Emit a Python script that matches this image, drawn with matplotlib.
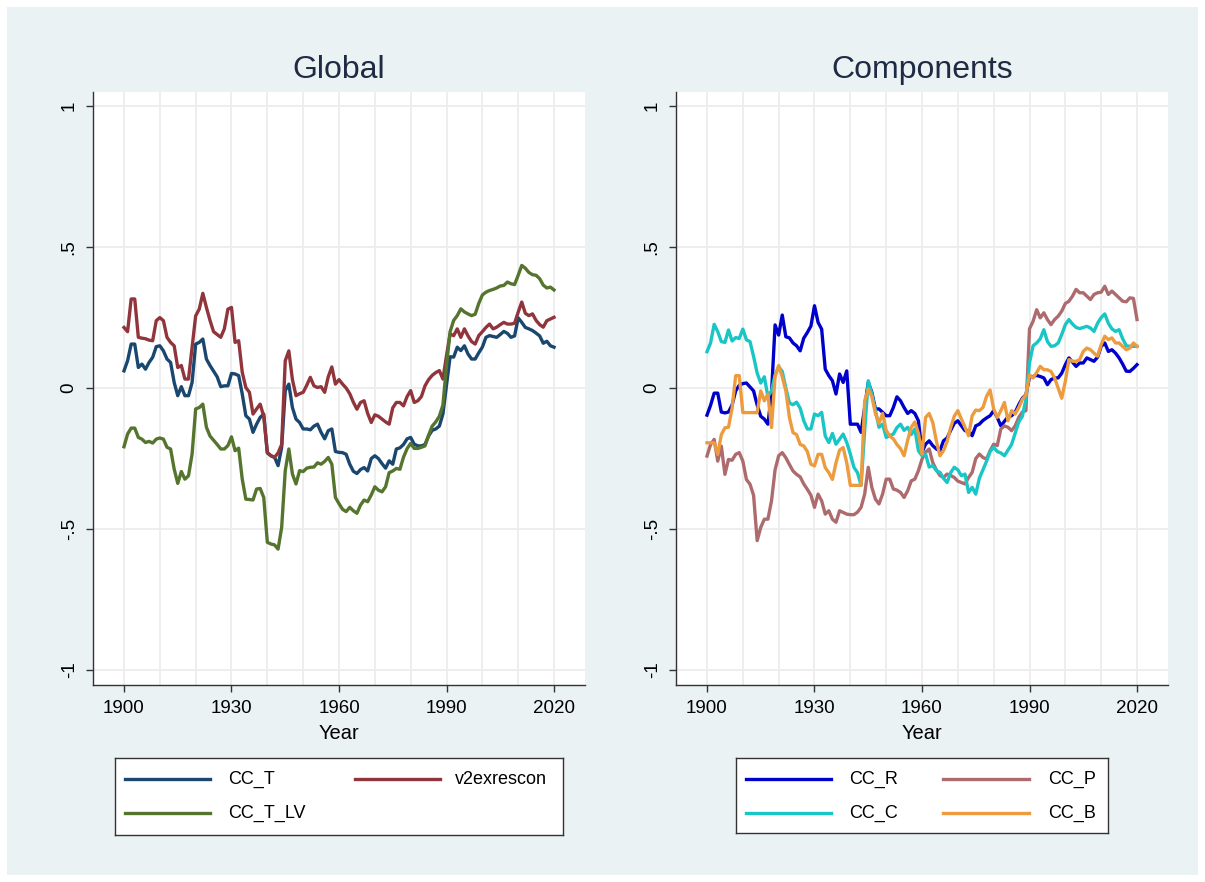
import numpy as np
import matplotlib
matplotlib.use("Agg")
import matplotlib.pyplot as plt
from matplotlib.lines import Line2D
from matplotlib.patches import Rectangle

plt.rcParams['font.family'] = ['Liberation Sans', 'DejaVu Sans']

# ---------------------------------------------------------------- data
years = np.arange(1900, 2021)

cc_t = [
    0.061, 0.097, 0.156, 0.156, 0.073, 0.085, 0.067, 0.091, 0.109, 0.147,
    0.150, 0.132, 0.103, 0.091, 0.020, -0.027, 0.005, -0.027, -0.027, 0.020,
    0.156, 0.162, 0.174, 0.103, 0.080, 0.060, 0.040, 0.005, 0.008, 0.008,
    0.052, 0.050, 0.044, -0.021, -0.098, -0.110, -0.157, -0.128, -0.104, -0.092,
    -0.230, -0.240, -0.245, -0.275, -0.210, -0.009, 0.014, -0.069, -0.110, -0.122,
    -0.145, -0.145, -0.148, -0.135, -0.128, -0.157, -0.180, -0.151, -0.145, -0.225,
    -0.228, -0.229, -0.235, -0.270, -0.295, -0.303, -0.289, -0.282, -0.294, -0.250,
    -0.240, -0.250, -0.268, -0.284, -0.258, -0.270, -0.216, -0.212, -0.200, -0.180,
    -0.175, -0.199, -0.205, -0.205, -0.200, -0.170, -0.150, -0.145, -0.135, -0.092,
    0.010, 0.111, 0.110, 0.145, 0.133, 0.150, 0.121, 0.103, 0.103, 0.125,
    0.145, 0.180, 0.186, 0.183, 0.180, 0.190, 0.201, 0.194, 0.180, 0.185,
    0.249, 0.233, 0.215, 0.210, 0.204, 0.195, 0.185, 0.159, 0.166, 0.150,
    0.145,
]

v2exrescon = [
    0.215, 0.200, 0.316, 0.316, 0.180, 0.177, 0.175, 0.170, 0.168, 0.239,
    0.250, 0.239, 0.180, 0.162, 0.150, 0.073, 0.080, 0.032, 0.032, 0.144,
    0.256, 0.280, 0.336, 0.286, 0.240, 0.200, 0.190, 0.180, 0.210, 0.280,
    0.286, 0.162, 0.168, 0.056, 0.002, -0.015, -0.092, -0.074, -0.057, -0.100,
    -0.228, -0.240, -0.246, -0.230, -0.200, 0.097, 0.132, 0.030, -0.027, -0.020,
    -0.015, 0.010, 0.038, 0.008, 0.002, 0.005, -0.015, 0.040, 0.075, 0.014,
    0.030, 0.014, 0.000, -0.020, -0.050, -0.075, -0.051, -0.045, -0.090, -0.122,
    -0.095, -0.100, -0.110, -0.120, -0.128, -0.070, -0.051, -0.051, -0.063, -0.030,
    -0.009, -0.051, -0.045, -0.030, 0.008, 0.030, 0.045, 0.055, 0.062, 0.032,
    0.115, 0.192, 0.186, 0.210, 0.180, 0.210, 0.185, 0.165, 0.156, 0.186,
    0.200, 0.215, 0.227, 0.210, 0.216, 0.225, 0.233, 0.227, 0.227, 0.230,
    0.269, 0.305, 0.265, 0.257, 0.263, 0.240, 0.225, 0.216, 0.239, 0.245,
    0.251,
]

cc_t_lv = [
    -0.208, -0.163, -0.142, -0.142, -0.175, -0.181, -0.193, -0.189, -0.195, -0.181,
    -0.177, -0.181, -0.210, -0.216, -0.287, -0.338, -0.296, -0.323, -0.311, -0.234,
    -0.074, -0.069, -0.057, -0.139, -0.170, -0.185, -0.200, -0.216, -0.216, -0.204,
    -0.173, -0.222, -0.213, -0.323, -0.394, -0.395, -0.397, -0.358, -0.356, -0.388,
    -0.547, -0.553, -0.556, -0.571, -0.494, -0.293, -0.216, -0.305, -0.340, -0.293,
    -0.296, -0.284, -0.281, -0.280, -0.265, -0.270, -0.260, -0.246, -0.270, -0.388,
    -0.410, -0.430, -0.438, -0.423, -0.435, -0.444, -0.415, -0.397, -0.403, -0.379,
    -0.350, -0.362, -0.368, -0.350, -0.300, -0.294, -0.285, -0.288, -0.245, -0.215,
    -0.196, -0.214, -0.214, -0.210, -0.205, -0.167, -0.135, -0.120, -0.100, -0.060,
    0.080, 0.200, 0.240, 0.257, 0.281, 0.270, 0.263, 0.257, 0.262, 0.300,
    0.330, 0.340, 0.346, 0.350, 0.355, 0.362, 0.364, 0.376, 0.370, 0.367,
    0.400, 0.435, 0.425, 0.410, 0.402, 0.400, 0.388, 0.365, 0.355, 0.358,
    0.348,
]

cc_r = [
    -0.096, -0.061, -0.018, -0.018, -0.085, -0.088, -0.085, -0.060, -0.010, 0.010,
    0.016, 0.018, 0.004, -0.010, -0.060, -0.100, -0.110, -0.128, -0.020, 0.224,
    0.188, 0.259, 0.182, 0.178, 0.160, 0.150, 0.132, 0.177, 0.197, 0.220,
    0.292, 0.233, 0.209, 0.067, 0.044, 0.026, -0.021, 0.050, 0.020, 0.061,
    -0.128, -0.128, -0.128, -0.157, -0.069, 0.020, -0.015, -0.074, -0.074, -0.086,
    -0.098, -0.098, -0.069, -0.031, -0.045, -0.069, -0.090, -0.080, -0.090, -0.116,
    -0.228, -0.199, -0.187, -0.204, -0.216, -0.222, -0.187, -0.177, -0.150, -0.125,
    -0.116, -0.134, -0.151, -0.151, -0.169, -0.134, -0.128, -0.115, -0.106, -0.098,
    -0.080, -0.104, -0.134, -0.118, -0.102, -0.098, -0.086, -0.059, -0.036, -0.024,
    0.040, 0.041, 0.045, 0.041, 0.036, 0.012, 0.030, 0.036, 0.036, 0.053,
    0.083, 0.107, 0.092, 0.077, 0.089, 0.089, 0.107, 0.101, 0.095, 0.110,
    0.148, 0.160, 0.130, 0.136, 0.124, 0.107, 0.085, 0.060, 0.059, 0.070,
    0.083,
]

cc_p = [
    -0.241, -0.200, -0.182, -0.259, -0.206, -0.306, -0.253, -0.256, -0.235, -0.229,
    -0.259, -0.324, -0.341, -0.380, -0.541, -0.494, -0.465, -0.465, -0.400, -0.290,
    -0.240, -0.229, -0.247, -0.271, -0.294, -0.306, -0.315, -0.340, -0.359, -0.380,
    -0.423, -0.376, -0.400, -0.447, -0.435, -0.465, -0.476, -0.435, -0.441, -0.447,
    -0.449, -0.449, -0.440, -0.423, -0.376, -0.281, -0.352, -0.394, -0.411, -0.376,
    -0.323, -0.323, -0.358, -0.362, -0.370, -0.388, -0.364, -0.329, -0.323, -0.293,
    -0.252, -0.228, -0.216, -0.264, -0.290, -0.310, -0.317, -0.305, -0.310, -0.317,
    -0.330, -0.335, -0.340, -0.317, -0.299, -0.250, -0.234, -0.246, -0.252, -0.222,
    -0.199, -0.204, -0.145, -0.134, -0.139, -0.151, -0.134, -0.104, -0.085, -0.080,
    0.210, 0.237, 0.278, 0.249, 0.267, 0.243, 0.225, 0.243, 0.255, 0.273,
    0.300, 0.308, 0.326, 0.350, 0.338, 0.338, 0.326, 0.314, 0.332, 0.338,
    0.340, 0.361, 0.332, 0.344, 0.332, 0.320, 0.308, 0.306, 0.320, 0.318,
    0.243,
]

cc_c = [
    0.129, 0.160, 0.226, 0.200, 0.165, 0.162, 0.206, 0.167, 0.179, 0.176,
    0.209, 0.171, 0.165, 0.112, 0.053, 0.018, 0.040, -0.030, -0.010, 0.047,
    0.076, 0.059, 0.000, -0.053, -0.059, -0.050, -0.071, -0.116, -0.145, -0.145,
    -0.092, -0.098, -0.086, -0.170, -0.193, -0.161, -0.199, -0.181, -0.163, -0.193,
    -0.234, -0.281, -0.300, -0.345, -0.150, 0.026, -0.021, -0.080, -0.139, -0.128,
    -0.175, -0.169, -0.163, -0.140, -0.128, -0.150, -0.139, -0.165, -0.145, -0.222,
    -0.240, -0.234, -0.280, -0.275, -0.293, -0.299, -0.320, -0.335, -0.300, -0.281,
    -0.290, -0.311, -0.305, -0.370, -0.352, -0.376, -0.320, -0.290, -0.260, -0.225,
    -0.210, -0.225, -0.230, -0.240, -0.220, -0.200, -0.160, -0.120, -0.100, -0.040,
    0.090, 0.150, 0.160, 0.175, 0.207, 0.165, 0.148, 0.150, 0.160, 0.190,
    0.225, 0.243, 0.227, 0.215, 0.211, 0.215, 0.219, 0.213, 0.201, 0.230,
    0.250, 0.263, 0.230, 0.210, 0.201, 0.207, 0.175, 0.150, 0.148, 0.148,
    0.148,
]

cc_b = [
    -0.194, -0.194, -0.194, -0.235, -0.165, -0.141, -0.139, -0.071, 0.044, 0.044,
    -0.087, -0.087, -0.087, -0.087, -0.087, -0.010, -0.045, -0.021, -0.140, 0.040,
    0.080, 0.040, -0.010, -0.104, -0.158, -0.165, -0.200, -0.205, -0.225, -0.270,
    -0.276, -0.235, -0.235, -0.282, -0.300, -0.324, -0.265, -0.220, -0.211, -0.265,
    -0.345, -0.345, -0.345, -0.345, -0.045, -0.004, -0.030, -0.090, -0.125, -0.090,
    -0.150, -0.170, -0.180, -0.200, -0.215, -0.240, -0.185, -0.139, -0.120, -0.160,
    -0.234, -0.104, -0.090, -0.122, -0.187, -0.240, -0.222, -0.190, -0.140, -0.100,
    -0.080, -0.110, -0.139, -0.169, -0.098, -0.078, -0.080, -0.069, -0.030, -0.007,
    -0.074, -0.104, -0.080, -0.051, -0.116, -0.080, -0.092, -0.069, -0.040, -0.024,
    0.047, 0.036, 0.055, 0.077, 0.065, 0.065, 0.059, 0.036, 0.000, -0.036,
    0.024, 0.101, 0.095, 0.095, 0.101, 0.130, 0.142, 0.136, 0.124, 0.113,
    0.154, 0.184, 0.172, 0.178, 0.160, 0.160, 0.148, 0.136, 0.142, 0.160,
    0.148,
]

x_ticks = [1900, 1930, 1960, 1990, 2020]
y_ticks = [-1, -0.5, 0, 0.5, 1]
y_tick_labels = ["-1", "-.5", "0", ".5", "1"]

# ---------------------------------------------------------------- style
W, H = 1205, 882
BG = "#EAF2F3"
TXT = "#1f2a44"
GRID = "#EDEDED"
LW = 2.4

panels = [
    {
        "title": "Global",
        "left": 93,
        "series": [("CC_T", cc_t, "#1A476F"),
                   ("v2exrescon", v2exrescon, "#90353B"),
                   ("CC_T_LV", cc_t_lv, "#55752F")],
        "legend_box": (115, 758, 563, 835),
        "legend_cols": [(10, 95, 113), (240, 325, 340)],
    },
    {
        "title": "Components",
        "left": 676,
        "series": [("CC_R", cc_r, "#0000CC"),
                   ("CC_P", cc_p, "#AE6B6E"),
                   ("CC_C", cc_c, "#18C6C6"),
                   ("CC_B", cc_b, "#EC9C3F")],
        "legend_box": (736, 758, 1108, 833),
        "legend_cols": [(10, 95, 113), (207, 293, 312)],
    },
]

fig = plt.figure(figsize=(W / 100, H / 100), dpi=100, facecolor="white")
fig.patches.append(Rectangle((7 / W, 7 / H), 1 - 14 / W, 1 - 14 / H,
                             transform=fig.transFigure, facecolor=BG,
                             edgecolor="none", zorder=-10))

ax_top, ax_bottom, ax_w = 92, 685, 492

for p in panels:
    ax = fig.add_axes([p["left"] / W, 1 - ax_bottom / H, ax_w / W,
                       (ax_bottom - ax_top) / H])
    ax.set_facecolor("white")
    for name, vals, col in p["series"]:
        ax.plot(years, vals, color=col, lw=LW, solid_joinstyle="round",
                label=name, zorder=3)

    ax.set_xlim(1891.35, 2028.65)
    ax.set_ylim(-1.053, 1.05)
    ax.set_xticks(x_ticks)
    ax.set_xticks(np.arange(1900, 2021, 10), minor=True)
    ax.set_yticks(y_ticks)
    ax.set_yticklabels(y_tick_labels)
    ax.grid(True, which="both", axis="x", color=GRID, lw=1.3, zorder=0)
    ax.grid(True, which="major", axis="y", color=GRID, lw=1.3, zorder=0)
    ax.tick_params(axis="x", which="minor", length=0)
    ax.tick_params(axis="both", which="major", length=5, width=1,
                   color="#333333", labelsize=13.5, labelcolor="black", pad=6)
    ax.tick_params(axis="y", labelrotation=90)
    for lbl in ax.get_yticklabels():
        lbl.set_va("center")
    for s in ("top", "right"):
        ax.spines[s].set_visible(False)
    for s in ("left", "bottom"):
        ax.spines[s].set_color("#333333")
        ax.spines[s].set_linewidth(1)
    ax.set_xlabel("Year", fontsize=14.5, color="black", labelpad=5)

    cx = (p["left"] + ax_w / 2) / W
    fig.text(cx, 1 - 70 / H, p["title"], ha="center", va="center",
             fontsize=23, color=TXT)

    # legend box
    x0, y0, x1, y1 = p["legend_box"]
    lw_, lh = x1 - x0, y1 - y0
    lax = fig.add_axes([x0 / W, 1 - y1 / H, lw_ / W, lh / H])
    lax.set_xlim(0, lw_)
    lax.set_ylim(lh, 0)
    lax.set_xticks([])
    lax.set_yticks([])
    lax.set_facecolor("white")
    for s in lax.spines.values():
        s.set_color("#333333")
        s.set_linewidth(1)
    rows = [21, 55]
    for i, (name, vals, col) in enumerate(p["series"]):
        r, c = divmod(i, 2)
        k0, k1, tx = p["legend_cols"][c]
        lax.add_line(Line2D([k0, k1], [rows[r], rows[r]], color=col, lw=LW))
        lax.text(tx, rows[r], name, ha="left", va="center", fontsize=13,
                 color="black")

fig.savefig("out.png", dpi=100, facecolor=fig.get_facecolor())
